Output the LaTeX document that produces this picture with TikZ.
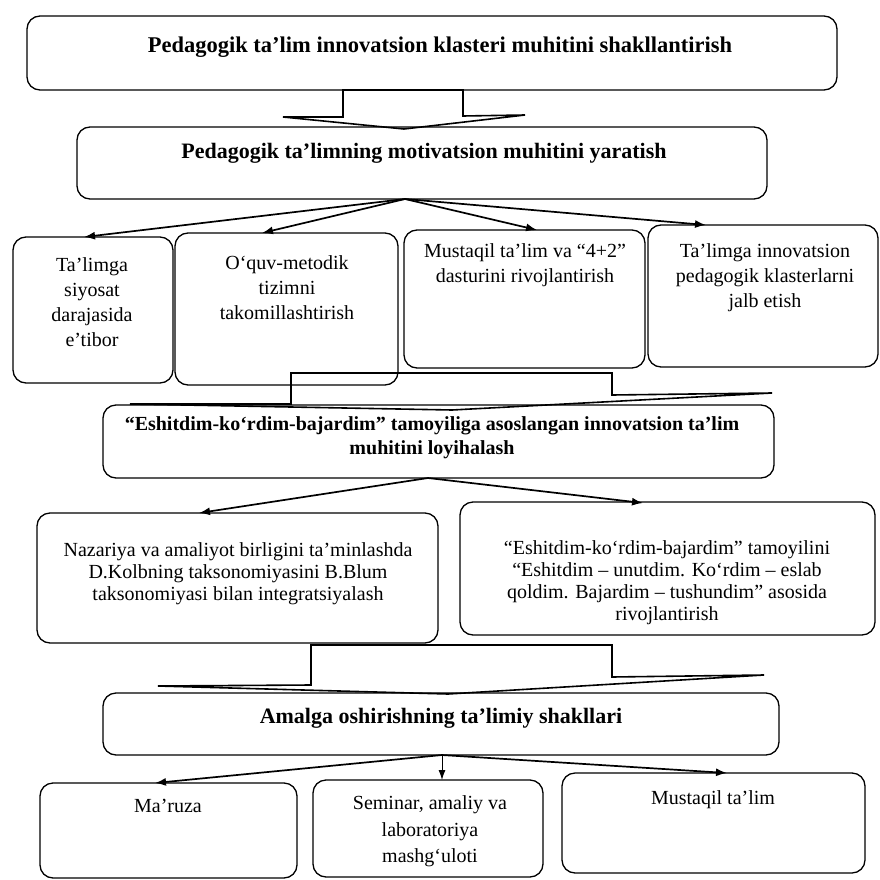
\documentclass[tikz,border=0pt]{standalone}
\usepackage{fontspec}
\setmainfont{Liberation Serif}
\usetikzlibrary{arrows.meta}
\tikzset{
  box/.style={draw, rounded corners=13pt, line width=1.3pt, inner sep=0pt, fill=white},
  txt/.style={align=center, inner sep=0pt, font=\fontsize{20}{25}\selectfont},
  btxt/.style={align=center, inner sep=0pt, font=\fontsize{22}{26}\selectfont\bfseries},
  arr/.style={line width=1.7pt, -{Latex[length=11pt,width=8pt]}},
  tarr/.style={line width=1pt, -{Latex[length=10pt,width=7pt]}},
  blk/.style={line width=1.6pt, line join=miter}
}
\newcommand\bx[5]{\node[box,minimum width={(#3-(#2))*1pt},minimum height={(#5-(#4))*1pt}] (#1) at ({(#2+#3)/2},{(#4+#5)/2}) {};}
\begin{document}
\begin{tikzpicture}[x=1pt,y=-1pt]
\useasboundingbox (0,0) rectangle (880,880);
\fill[white] (0,0) rectangle (880,880);
% boxes
\bx{b1}{27}{837}{16}{90}
\bx{b2}{77}{767}{127}{199}
\bx{b3a}{13}{173}{237}{383}
\bx{b3b}{175}{398}{233}{385}
\bx{b3c}{404}{645}{230}{368}
\bx{b3d}{648}{878}{225}{367}
\bx{b4}{103}{774}{405}{478}
\bx{b5a}{37}{438}{513}{643}
\bx{b5b}{460}{875}{502}{635}
\bx{b6}{103}{779}{693}{755}
\bx{b7a}{40}{297}{783}{878}
\bx{b7b}{313}{543}{780}{877}
\bx{b7c}{562}{865}{773}{873}
% texts
\node[btxt, font=\fontsize{22.5}{26}\selectfont\bfseries] (t1) at (440,47) {Pedagogik ta’lim innovatsion klasteri muhitini shakllantirish};
\node[btxt] (t2) at (424,153) {Pedagogik ta’limning motivatsion muhitini yaratish};
\node[txt] (t3a) at (92,302) {Ta’limga\\siyosat\\darajasida\\e’tibor};
\node[txt] (t3b) at (287,288) {O‘quv-metodik\\tizimni\\takomillashtirish};
\node[txt] (t3c) at (525,265.5) {Mustaqil ta’lim va “4+2”\\dasturini rivojlantirish};
\node[txt] (t3d) at (765,277.5) {Ta’limga innovatsion\\pedagogik klasterlarni\\jalb etish};
\node[btxt, font=\fontsize{20}{24}\selectfont\bfseries] (t4) at (432,437.5) {“Eshitdim-ko‘rdim-bajardim” tamoyiliga asoslangan innovatsion ta’lim\\muhitini loyihalash};
\node[txt, font=\fontsize{20}{22}\selectfont] (t5a) at (238,573.5) {Nazariya va amaliyot birligini ta’minlashda\\D.Kolbning taksonomiyasini B.Blum\\taksonomiyasi bilan integratsiyalash};
\node[txt, font=\fontsize{20}{22}\selectfont] (t5b) at (667,582.5) {“Eshitdim-ko‘rdim-bajardim” tamoyilini\\“Eshitdim – unutdim. Ko‘rdim – eslab\\qoldim. Bajardim – tushundim” asosida\\rivojlantirish};
\node[btxt] (t6) at (441,718) {Amalga oshirishning ta’limiy shakllari};
\node[txt] (t7a) at (168,806) {Ma’ruza};
\node[txt, font=\fontsize{20}{26.5}\selectfont] (t7b) at (430,831.5) {Seminar, amaliy va\\laboratoriya\\mashg‘uloti};
\node[txt] (t7c) at (713,800) {Mustaqil ta’lim};
% block arrows
\draw[blk] (283,117) -- (343,117) -- (343,90) -- (463,90) -- (463,116) -- (525,115) -- (404,129) -- cycle;
\draw[blk] (130,404) -- (291,404) -- (291,373) -- (612,373) -- (612,395) -- (772,393) -- (452,410) -- cycle;
\draw[blk] (158,686) -- (311,685) -- (311,645) -- (612,645) -- (612,677) -- (764,675) -- (448,694) -- cycle;
% connector points
\coordinate (s2) at (405,199);
\coordinate (e3a) at (84,237);
\coordinate (e3b) at (262,233);
\coordinate (e3c) at (537,230);
\coordinate (e3d) at (706,225);
\coordinate (s4) at (428,478);
\coordinate (e5a) at (199,513);
\coordinate (e5b) at (643,503);
\coordinate (s6) at (442,755);
\coordinate (e7a) at (155,783);
\coordinate (e7b) at (442,780);
\coordinate (e7c) at (727,773);
\draw[arr] (s2) -- (e3a);
\draw[arr] (s2) -- (e3b);
\draw[arr] (s2) -- (e3c);
\draw[arr] (s2) -- (e3d);
\draw[arr] (s4) -- (e5a);
\draw[arr] (s4) -- (e5b);
\draw[arr] (s6) -- (e7a);
\draw[tarr] (s6) -- (e7b);
\draw[arr] (s6) -- (e7c);
\end{tikzpicture}
\end{document}
